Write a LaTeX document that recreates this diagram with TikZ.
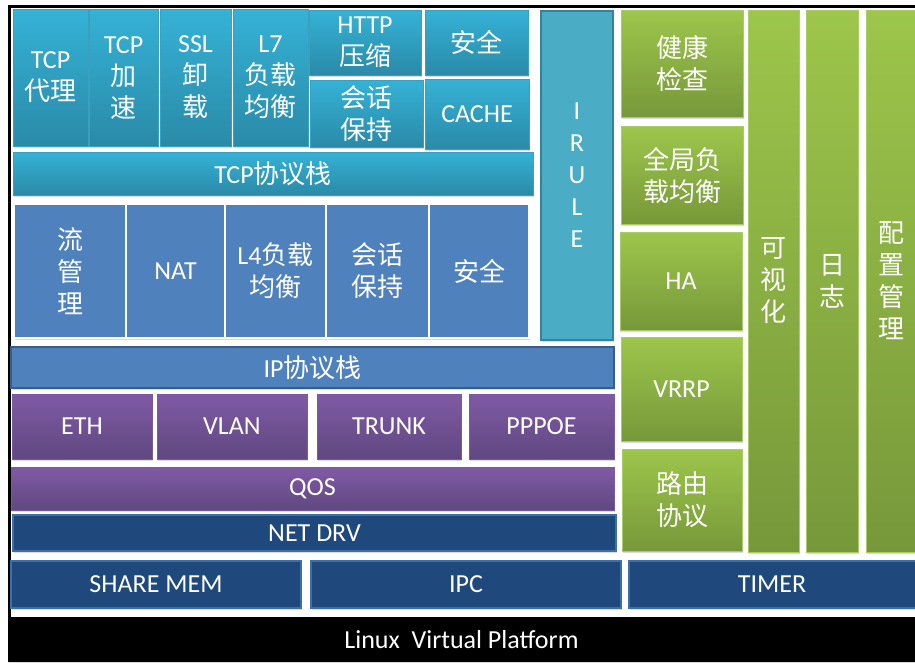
\documentclass[tikz,border=0pt]{standalone}
\usepackage{fontspec}
\setmainfont{Carlito}
\newfontfamily\cjk{Noto Sans CJK SC}
\usetikzlibrary{shadows}
\newcommand\zh[1]{{\cjk #1}}
\definecolor{tealtop}{HTML}{35B2D6}
\definecolor{tealbot}{HTML}{2A8AA8}
\definecolor{tealedge}{HTML}{3AA0C0}
\definecolor{irulefill}{HTML}{4BACC6}
\definecolor{iruleedge}{HTML}{31849B}
\definecolor{bluefill}{HTML}{4F81BD}
\definecolor{blueedge}{HTML}{385D8A}
\definecolor{purtop}{HTML}{805AA5}
\definecolor{purbot}{HTML}{5F4880}
\definecolor{puredge}{HTML}{7A5A9E}
\definecolor{grntop}{HTML}{9DC64B}
\definecolor{grnbot}{HTML}{77983A}
\definecolor{grnedge}{HTML}{A9CC66}
\definecolor{navyfill}{HTML}{1F497D}
\definecolor{navyedge}{HTML}{3D6FA8}
\tikzset{
  base/.style={rectangle, inner sep=0pt, align=center, text=white,
    font=\fontsize{26}{32}\selectfont,
    drop shadow={shadow xshift=1.2pt, shadow yshift=-1.8pt, opacity=.28}},
  tealbox/.style={base, top color=tealtop, bottom color=tealbot, draw=tealedge, line width=0.8pt},
  irulebox/.style={base, fill=irulefill, draw=iruleedge, line width=2pt},
  l4box/.style={base, fill=bluefill, draw=white, line width=2.5pt},
  ipbox/.style={base, fill=bluefill, draw=blueedge, line width=2pt},
  purbox/.style={base, top color=purtop, bottom color=purbot, draw=puredge, line width=0.8pt},
  grnbox/.style={base, top color=grntop, bottom color=grnbot, draw=grnedge, line width=0.8pt},
  navybox/.style={base, fill=navyfill, draw=navyedge, line width=1.5pt},
}
\newcommand\bx[7]{\node[#2, minimum width={#5-#3}, minimum height={#6-#4}] (#1) at ({(#3+#5)/2},{(#4+#6)/2}) {#7};}
\begin{document}
\begin{tikzpicture}[x=1pt,y=-1pt]
\useasboundingbox (0,0) rectangle (915,662);
\clip (0,0) rectangle (915,662);
\fill[white] (0,0) rectangle (915,662);
% frame
\fill[black] (8,5) rectangle (915,7.5);
\fill[black] (8,5) rectangle (11,662);
% top teal
\bx{tcpproxy}{tealbox}{13}{9}{88}{146}{TCP\\\zh{代理}}
\bx{tcpacc}{tealbox}{89}{9}{158}{146}{TCP\\\zh{加}\\\zh{速}}
\bx{ssl}{tealbox}{160}{9}{231}{146}{SSL\\\zh{卸}\\\zh{载}}
\bx{l7}{tealbox}{233}{9}{308}{146}{L7\\\zh{负载}\\\zh{均衡}}
\bx{http}{tealbox}{309}{10}{421}{75}{HTTP\\\zh{压缩}}
\bx{sec7}{tealbox}{425}{10}{528}{75}{\zh{安全}}
\bx{sess7}{tealbox}{310}{80}{423}{147}{\zh{会话}\\\zh{保持}}
\bx{cache}{tealbox}{425}{79}{529}{149}{CACHE}
\bx{tcpstack}{tealbox}{13}{152}{533}{195}{TCP\zh{协议栈}}
\bx{irule}{irulebox}{541}{11}{613}{340}{I\\R\\U\\L\\E}
% L4 row
\bx{flow}{l4box}{14}{204}{126}{338}{\zh{流}\\\zh{管}\\\zh{理}}
\bx{nat}{l4box}{126}{204}{225}{338}{NAT}
\bx{l4}{l4box}{225}{204}{326}{338}{L4\zh{负载}\\\zh{均衡}}
\bx{sess4}{l4box}{326}{204}{429}{338}{\zh{会话}\\\zh{保持}}
\bx{sec4}{l4box}{429}{204}{529}{338}{\zh{安全}}
\bx{ipstack}{ipbox}{11}{347}{614}{388}{IP\zh{协议栈}}
% purple
\bx{eth}{purbox}{12}{394}{152}{459}{ETH}
\bx{vlan}{purbox}{157}{394}{307}{459}{VLAN}
\bx{trunk}{purbox}{317}{394}{461}{459}{TRUNK}
\bx{pppoe}{purbox}{469}{394}{614}{459}{PPPOE}
\bx{qos}{purbox}{11}{467}{614}{510}{QOS}
% navy
\bx{netdrv}{navybox}{13}{515}{616}{551}{NET DRV}
\bx{sharemem}{navybox}{11}{561}{301}{608}{SHARE MEM}
\bx{ipc}{navybox}{311}{561}{621}{608}{IPC}
\bx{timer}{navybox}{629}{561}{925}{608}{\hspace*{-10pt}TIMER}
% green
\bx{health}{grnbox}{621}{10}{743}{117}{\zh{健康}\\\zh{检查}}
\bx{glb}{grnbox}{621}{126}{743}{224}{\zh{全局负}\\\zh{载均衡}}
\bx{ha}{grnbox}{620}{232}{742}{330}{HA}
\bx{vrrp}{grnbox}{621}{337}{742}{441}{VRRP}
\bx{route}{grnbox}{622}{449}{742}{551}{\zh{路由}\\\zh{协议}}
\bx{vis}{grnbox}{748}{10}{799}{552}{\zh{可}\\\zh{视}\\\zh{化}}
\bx{log}{grnbox}{806}{10}{858}{552}{\zh{日}\\\zh{志}}
\bx{conf}{grnbox}{866}{10}{920}{552}{\hspace*{-4pt}\zh{配}\\\hspace*{-4pt}\zh{置}\\\hspace*{-4pt}\zh{管}\\\hspace*{-4pt}\zh{理}}
% bottom bar
\bx{lvp}{base, fill=black, draw=none, drop shadow={opacity=0}}{8}{617}{915}{662}{Linux\ \ Virtual Platform}
\end{tikzpicture}
\end{document}
